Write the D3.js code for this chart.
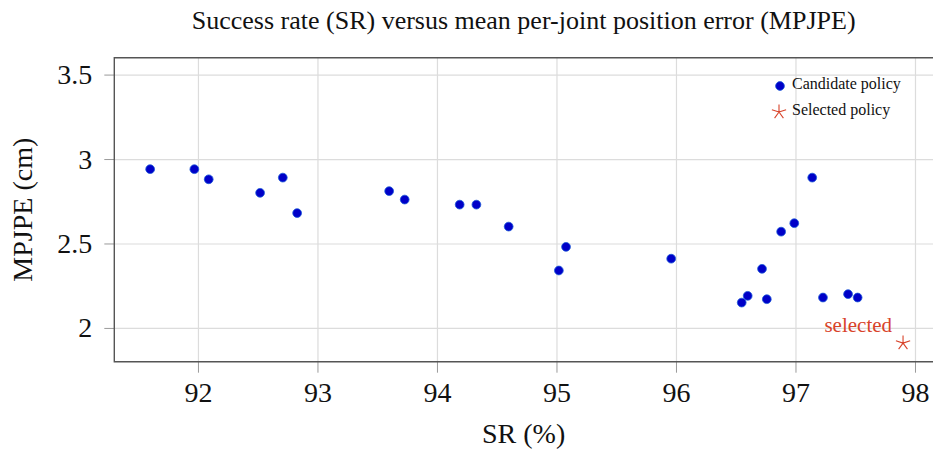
<!DOCTYPE html>
<html>
<head>
<meta charset="utf-8">
<script src="https://cdn.jsdelivr.net/npm/d3@7"></script>
<style>
  body { margin: 0; background: #fff; }
  .grid line { stroke: #dcdcdc; stroke-width: 1.2; }
  .grid path { display: none; }
  .axis path { display: none; }
  .axis line { stroke: #9a9a9a; stroke-width: 1; }
</style>
</head>
<body>
<div id="viz"></div>
<script>
"use strict";

var w = 933;
var h = 450;
var serif = "'Liberation Serif', 'Times New Roman', Times, 'DejaVu Serif', serif";

// candidate policies: success rate (%) and MPJPE (cm)
var candSR = [91.60, 91.97, 92.09, 92.52, 92.71, 92.83, 93.60, 93.73, 94.19, 94.33, 94.60,
  95.02, 95.08, 95.96, 96.55, 96.60, 96.72, 96.76, 96.88, 96.99, 97.14, 97.23, 97.44, 97.52];
var candMPJPE = [2.94, 2.94, 2.88, 2.80, 2.89, 2.68, 2.81, 2.76, 2.73, 2.73, 2.60,
  2.34, 2.48, 2.41, 2.15, 2.19, 2.35, 2.17, 2.57, 2.62, 2.89, 2.18, 2.20, 2.18];

var selectedSR = [97.90];
var selectedMPJPE = [1.91];

var xTicks = [92, 93, 94, 95, 96, 97, 98];
var yTicks = [2, 2.5, 3, 3.5];

var legendLabels = ["Candidate policy", "Selected policy"];

var blue = "#0000c8";
var red = "#d8432a";

var svg = d3.select("#viz")
  .append("svg")
  .attr("width", w)
  .attr("height", h)
  .style("display", "block")

var x = d3.scaleLinear().domain([91.3, 98.18]).range([114.3, 936.5]);
var y = d3.scaleLinear().domain([1.8, 3.6]).range([361.7, 57.7]);

var plotLeft = x.range()[0], plotRight = x.range()[1];
var plotTop = y.range()[1], plotBottom = y.range()[0];

// grid
svg.append("g")
  .attr("class", "grid")
  .attr("transform", "translate(0," + plotBottom + ")")
  .call(d3.axisBottom(x).tickValues(xTicks).tickSize(-(plotBottom - plotTop)).tickFormat(""));
svg.append("g")
  .attr("class", "grid")
  .attr("transform", "translate(" + plotLeft + ",0)")
  .call(d3.axisLeft(y).tickValues(yTicks).tickSize(-(plotRight - plotLeft)).tickFormat(""));

// axes
var xAxis = svg.append("g")
  .attr("class", "axis")
  .attr("transform", "translate(0," + plotBottom + ")")
  .call(d3.axisBottom(x).tickValues(xTicks).tickSizeInner(11).tickSizeOuter(0).tickPadding(9).tickFormat(d3.format("d")));
var yAxis = svg.append("g")
  .attr("class", "axis")
  .attr("transform", "translate(" + plotLeft + ",0)")
  .call(d3.axisLeft(y).tickValues(yTicks).tickSizeInner(10).tickSizeOuter(0).tickPadding(12).tickFormat(function(d) { return String(d); }));

svg.selectAll(".axis text")
  .style("font-family", serif)
  .style("font-size", "28px")
  .attr("fill", "#111");

// frame
svg.append("path")
  .attr("d", "M" + plotRight + "," + plotTop + "H" + plotLeft + "V" + plotBottom + "H" + plotRight)
  .attr("fill", "none")
  .attr("stroke", "#555")
  .attr("stroke-width", 1.4);

// candidate markers
svg.append("g")
  .selectAll("circle")
  .data(candSR).enter()
  .append("circle")
  .attr("cx", function(d) { return x(d); })
  .attr("cy", function(d, i) { return y(candMPJPE[i]); })
  .attr("r", 4.4)
  .attr("fill", blue)
  .attr("stroke", "#1e5ad8")
  .attr("stroke-width", 0.8);

// 5-arm star like pgfplots
function starPath(r) {
  var p = "";
  for (var k = 0; k < 5; k++) {
    var a = -Math.PI / 2 + k * 2 * Math.PI / 5;
    p += "M0,0L" + (r * Math.cos(a)).toFixed(2) + "," + (r * Math.sin(a)).toFixed(2);
  }
  return p;
}

svg.append("g")
  .selectAll("path")
  .data(selectedSR).enter()
  .append("path")
  .attr("d", starPath(7.5))
  .attr("transform", function(d, i) { return "translate(" + x(d) + "," + y(selectedMPJPE[i]) + ")"; })
  .attr("fill", "none")
  .attr("stroke", red)
  .attr("stroke-width", 1.1);

svg.append("g")
  .selectAll("text")
  .data(selectedSR).enter()
  .append("text")
  .attr("x", function(d) { return x(d) - 11; })
  .attr("y", function(d, i) { return y(selectedMPJPE[i]) - 11.5; })
  .attr("text-anchor", "end")
  .style("font-family", serif)
  .style("font-size", "21px")
  .attr("fill", red)
  .text("selected");

// legend
var legend = svg.append("g").attr("transform", "translate(780,86)");
legend.append("circle").attr("cx", 0).attr("cy", 0).attr("r", 4.4)
  .attr("fill", blue).attr("stroke", "#1e5ad8").attr("stroke-width", 0.8);
legend.append("path").attr("d", starPath(7.5)).attr("transform", "translate(-1,26)")
  .attr("fill", "none").attr("stroke", red).attr("stroke-width", 1.1);
legend.selectAll("text")
  .data(legendLabels).enter()
  .append("text")
  .attr("x", 12)
  .attr("y", function(d, i) { return 3 + i * 26; })
  .style("font-family", serif)
  .style("font-size", "16px")
  .attr("fill", "#111")
  .text(function(d) { return d; });

// title and axis labels
svg.append("text")
  .attr("x", (plotLeft + 933) / 2)
  .attr("y", 29)
  .attr("text-anchor", "middle")
  .style("font-family", serif)
  .style("font-size", "26px")
  .attr("fill", "#111")
  .text("Success rate (SR) versus mean per-joint position error (MPJPE)");

svg.append("text")
  .attr("x", (plotLeft + 933) / 2)
  .attr("y", 443)
  .attr("text-anchor", "middle")
  .style("font-family", serif)
  .style("font-size", "28px")
  .attr("fill", "#111")
  .text("SR (%)");

svg.append("text")
  .attr("transform", "translate(32," + ((plotTop + plotBottom) / 2) + ") rotate(-90)")
  .attr("text-anchor", "middle")
  .style("font-family", serif)
  .style("font-size", "28px")
  .attr("fill", "#111")
  .text("MPJPE (cm)");
</script>
</body>
</html>
